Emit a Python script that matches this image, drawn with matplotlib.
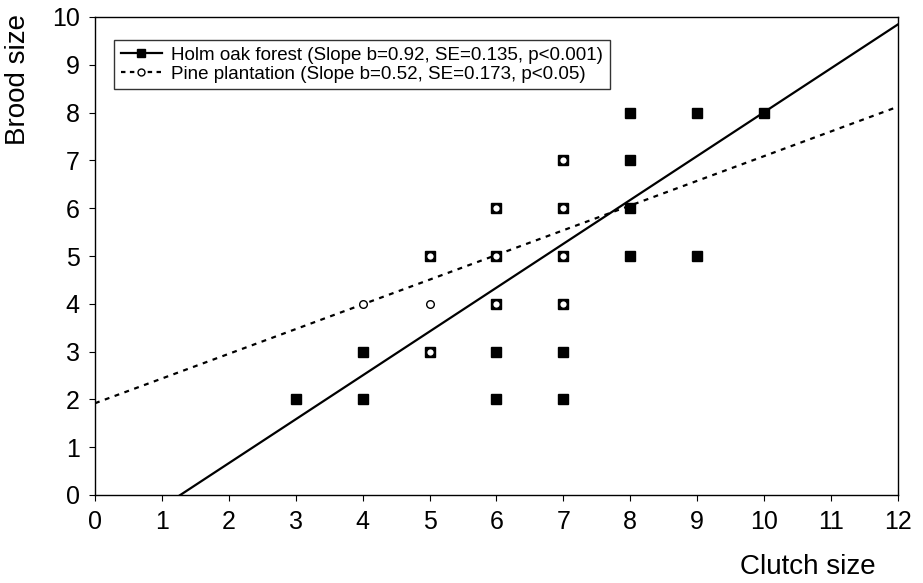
import matplotlib.pyplot as plt
import numpy as np

plt.rcParams['font.family'] = ['Liberation Sans', 'DejaVu Sans']

# Holm oak forest (filled squares)
oak_clutch = [3, 4, 4, 5, 5, 6, 6, 6, 6, 6, 7, 7, 7, 7, 7, 7, 8, 8, 8, 8, 9, 9, 10]
oak_brood = [2, 2, 3, 3, 5, 2, 3, 4, 5, 6, 2, 3, 4, 5, 6, 7, 5, 6, 7, 8, 5, 8, 8]

# Pine plantation (open circles)
pine_clutch = [4, 5, 5, 5, 6, 6, 6, 7, 7, 7, 7]
pine_brood = [4, 3, 4, 5, 4, 5, 6, 4, 5, 6, 7]

# regression fits (slope, intercept)
oak_fit = (0.918, -1.17)
pine_fit = (0.517, 1.92)

oak_label = 'Holm oak forest (Slope b=0.92, SE=0.135, p<0.001)'
pine_label = 'Pine plantation (Slope b=0.52, SE=0.173, p<0.05)'

fig = plt.figure(figsize=(9.23, 5.83), dpi=100)
ax = fig.add_axes([95 / 923, 1 - 495 / 583, 803 / 923, 478 / 583])

xs = np.array([0, 12])
ax.plot(xs, oak_fit[0] * xs + oak_fit[1], color='black', lw=1.6, zorder=2)
ax.plot(xs, pine_fit[0] * xs + pine_fit[1], color='black', lw=1.6,
        linestyle=(0, (2.2, 2.5)), zorder=2)

ax.plot(oak_clutch, oak_brood, 's', color='black', markersize=7.5, zorder=3)
ax.plot(pine_clutch, pine_brood, 'o', mfc='white', mec='black', mew=1.0,
        markersize=5.5, zorder=4)

# legend proxies: line + marker
h1, = ax.plot([], [], color='black', lw=1.6, marker='s', markersize=6)
h2, = ax.plot([], [], color='black', lw=1.6, linestyle=(0, (2, 2)),
              marker='o', mfc='white', markersize=5)
leg = ax.legend([h1, h2], [oak_label, pine_label], loc='upper left',
                bbox_to_anchor=(0.0237, 0.952), borderaxespad=0,
                fontsize=13.5, frameon=True, fancybox=False,
                edgecolor='black', handlelength=2.2, handletextpad=0.5,
                borderpad=0.35, labelspacing=0.1, markerfirst=True)
leg.get_frame().set_linewidth(1.0)

ax.set_xlim(0, 12)
ax.set_ylim(0, 10)
ax.set_xticks(range(0, 13))
ax.set_yticks(range(0, 11))
ax.tick_params(labelsize=18, length=4, width=0.8, direction='out', pad=7)
for s in ax.spines.values():
    s.set_linewidth(1.0)

fig.text(808 / 923, 1 - 567 / 583, 'Clutch size', fontsize=20,
         ha='center', va='center')
fig.text(18 / 923, 1 - 80 / 583, 'Brood size', fontsize=20,
         ha='center', va='center', rotation=90)

fig.savefig('out.png', dpi=100)
